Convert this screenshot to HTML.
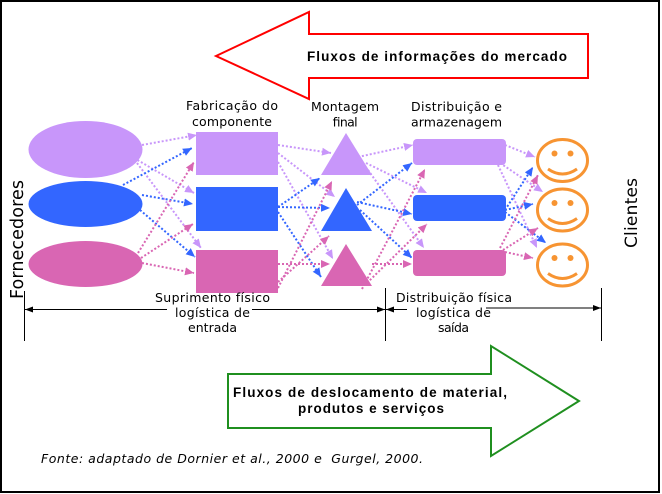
<!DOCTYPE html>
<html><head><meta charset="utf-8"><style>
html,body{margin:0;padding:0;background:#fff;}
svg{display:block;}
.d{stroke-width:2;stroke-dasharray:2 2;fill:none;}
.lv{stroke:#c896fa;}
.bl{stroke:#3366ff;}
.pk{stroke:#d966b3;}
.lbl{font-family:"DejaVu Sans","Liberation Sans",sans-serif;font-size:12.5px;fill:#000;}
</style></head><body>
<svg width="662" height="494" viewBox="0 0 662 494" xmlns="http://www.w3.org/2000/svg">
<defs>
<marker id="aL" viewBox="0 0 9 8" refX="9" refY="4" markerWidth="9" markerHeight="8" markerUnits="userSpaceOnUse" orient="auto"><path d="M0,0 L9,4 L0,8 z" fill="#c896fa"/></marker>
<marker id="aB" viewBox="0 0 9 8" refX="9" refY="4" markerWidth="9" markerHeight="8" markerUnits="userSpaceOnUse" orient="auto"><path d="M0,0 L9,4 L0,8 z" fill="#3366ff"/></marker>
<marker id="aP" viewBox="0 0 9 8" refX="9" refY="4" markerWidth="9" markerHeight="8" markerUnits="userSpaceOnUse" orient="auto"><path d="M0,0 L9,4 L0,8 z" fill="#d966b3"/></marker>
<marker id="aK" viewBox="0 0 8 6" refX="8" refY="3" markerWidth="8" markerHeight="6" markerUnits="userSpaceOnUse" orient="auto"><path d="M0,0 L8,3 L0,6 z" fill="#000"/></marker>
</defs>
<rect x="0" y="0" width="662" height="494" fill="#fff"/>
<rect x="1" y="1" width="658" height="491" fill="none" stroke="#000" stroke-width="2"/>

<!-- red arrow -->
<polygon points="216,56 309,12 309,34 588,34 588,78 309,78 309,99" fill="#fff" stroke="#ff0000" stroke-width="2"/>
<text x="307" y="61" font-family="Liberation Sans, sans-serif" font-weight="bold" font-size="13.5" textLength="260" lengthAdjust="spacing">Fluxos de informações do mercado</text>

<!-- green arrow -->
<polygon points="228,374 491,374 491,346 579,401 491,456 491,428 228,428" fill="#fff" stroke="#1f8f1f" stroke-width="2"/>
<text x="233" y="397" font-family="Liberation Sans, sans-serif" font-weight="bold" font-size="13.5" textLength="274" lengthAdjust="spacing">Fluxos de deslocamento de material,</text>
<text x="298" y="413" font-family="Liberation Sans, sans-serif" font-weight="bold" font-size="13.5" textLength="146" lengthAdjust="spacing">produtos e serviços</text>

<!-- connectors col1 -> col2 -->
<line class="d lv" x1="142" y1="145" x2="197" y2="135" marker-end="url(#aL)"/>
<line class="d lv" x1="134" y1="158" x2="194" y2="193" marker-end="url(#aL)"/>
<line class="d lv" x1="137" y1="163" x2="201" y2="248" marker-end="url(#aL)"/>
<line class="d bl" x1="123" y1="185" x2="192" y2="148" marker-end="url(#aB)"/>
<line class="d bl" x1="142" y1="195" x2="193" y2="204" marker-end="url(#aB)"/>
<line class="d bl" x1="140" y1="210" x2="195" y2="257" marker-end="url(#aB)"/>
<line class="d pk" x1="138" y1="253" x2="194" y2="162" marker-end="url(#aP)"/>
<line class="d pk" x1="141" y1="258" x2="193" y2="224" marker-end="url(#aP)"/>
<line class="d pk" x1="142" y1="263" x2="194" y2="273" marker-end="url(#aP)"/>

<!-- col2 -> col3 -->
<line class="d lv" x1="278" y1="145" x2="331" y2="153" marker-end="url(#aL)"/>
<line class="d lv" x1="278" y1="153" x2="335" y2="197" marker-end="url(#aL)"/>
<line class="d lv" x1="278" y1="162" x2="333" y2="259" marker-end="url(#aL)"/>
<line class="d bl" x1="278" y1="207" x2="320" y2="178" marker-end="url(#aB)"/>
<line class="d bl" x1="278" y1="207" x2="330" y2="208" marker-end="url(#aB)"/>
<line class="d bl" x1="278" y1="212" x2="321" y2="277" marker-end="url(#aB)"/>
<line class="d pk" x1="278" y1="288" x2="332" y2="181" marker-end="url(#aP)"/>
<line class="d pk" x1="278" y1="282" x2="329" y2="236" marker-end="url(#aP)"/>
<line class="d pk" x1="278" y1="264" x2="330" y2="264" marker-end="url(#aP)"/>

<!-- col3 -> col4 -->
<line class="d lv" x1="358" y1="157" x2="413" y2="145" marker-end="url(#aL)"/>
<line class="d lv" x1="366" y1="163" x2="427" y2="193" marker-end="url(#aL)"/>
<line class="d lv" x1="368" y1="170" x2="424" y2="248" marker-end="url(#aL)"/>
<line class="d bl" x1="357" y1="205" x2="412" y2="163" marker-end="url(#aB)"/>
<line class="d bl" x1="357" y1="202" x2="412" y2="214" marker-end="url(#aB)"/>
<line class="d bl" x1="360" y1="210" x2="412" y2="258" marker-end="url(#aB)"/>
<line class="d pk" x1="362" y1="289" x2="425" y2="169" marker-end="url(#aP)"/>
<line class="d pk" x1="367" y1="283" x2="427" y2="224" marker-end="url(#aP)"/>
<line class="d pk" x1="372" y1="264" x2="412" y2="264" marker-end="url(#aP)"/>

<!-- col4 -> col5 -->
<line class="d lv" x1="505" y1="145" x2="535" y2="157" marker-end="url(#aL)"/>
<line class="d lv" x1="500" y1="163" x2="543" y2="192" marker-end="url(#aL)"/>
<line class="d lv" x1="498" y1="165" x2="537" y2="248" marker-end="url(#aL)"/>
<line class="d bl" x1="505" y1="210" x2="533" y2="167" marker-end="url(#aB)"/>
<line class="d bl" x1="505" y1="210" x2="533" y2="204" marker-end="url(#aB)"/>
<line class="d bl" x1="505" y1="212" x2="546" y2="243" marker-end="url(#aB)"/>
<line class="d pk" x1="500" y1="248" x2="538" y2="175" marker-end="url(#aP)"/>
<line class="d pk" x1="503" y1="250" x2="538" y2="228" marker-end="url(#aP)"/>
<line class="d pk" x1="505" y1="252" x2="533" y2="258" marker-end="url(#aP)"/>

<!-- ellipses -->
<ellipse cx="85.5" cy="149.5" rx="57" ry="28.5" fill="#c896fa"/>
<ellipse cx="85.5" cy="204" rx="57" ry="23" fill="#3366ff"/>
<ellipse cx="85.5" cy="264" rx="57" ry="23" fill="#d966b3"/>

<!-- rects -->
<rect x="196" y="132" width="82" height="43" fill="#c896fa"/>
<rect x="196" y="187" width="82" height="44" fill="#3366ff"/>
<rect x="196" y="250" width="82" height="43" fill="#d966b3"/>

<!-- triangles -->
<polygon points="346,133 372,175 321,175" fill="#c896fa"/>
<polygon points="346,188 372,231 321,231" fill="#3366ff"/>
<polygon points="346,244 372,286 321,286" fill="#d966b3"/>

<!-- rounded rects -->
<rect x="413" y="139" width="93" height="26" rx="4" fill="#c896fa"/>
<rect x="413" y="195" width="93" height="26" rx="4" fill="#3366ff"/>
<rect x="413" y="250" width="93" height="26" rx="4" fill="#d966b3"/>

<!-- smileys -->
<g fill="none" stroke="#f79432" stroke-width="3">
<ellipse cx="562.5" cy="160.5" rx="25" ry="21"/>
<ellipse cx="562.5" cy="210" rx="25" ry="21"/>
<ellipse cx="562.5" cy="265" rx="25" ry="21"/>
<path d="M548,169 Q562.5,179 577,169"/>
<path d="M548,218.5 Q562.5,228.5 577,218.5"/>
<path d="M548,273.5 Q562.5,283.5 577,273.5"/>
</g>
<g fill="#f79432">
<circle cx="554.5" cy="153.5" r="3"/><circle cx="570.5" cy="153.5" r="3"/>
<circle cx="554.5" cy="203" r="3"/><circle cx="570.5" cy="203" r="3"/>
<circle cx="554.5" cy="258" r="3"/><circle cx="570.5" cy="258" r="3"/>
</g>

<!-- column labels -->
<text class="lbl" x="186" y="110" textLength="92" lengthAdjust="spacing">Fabricação do</text>
<text class="lbl" x="192" y="126" textLength="80" lengthAdjust="spacing">componente</text>
<text class="lbl" x="311" y="111" textLength="68" lengthAdjust="spacing">Montagem</text>
<text class="lbl" x="332" y="126.5" textLength="25" lengthAdjust="spacing">final</text>
<text class="lbl" x="411" y="111" textLength="91" lengthAdjust="spacing">Distribuição e</text>
<text class="lbl" x="411" y="126.5" textLength="91" lengthAdjust="spacing">armazenagem</text>

<!-- rotated labels -->
<text transform="translate(23,299) rotate(-90)" font-family="DejaVu Sans, Liberation Sans, sans-serif" font-size="17.5" textLength="119" lengthAdjust="spacing">Fornecedores</text>
<text transform="translate(637,248) rotate(-90)" font-family="DejaVu Sans, Liberation Sans, sans-serif" font-size="17" textLength="70" lengthAdjust="spacing">Clientes</text>

<!-- dimension lines -->
<g stroke="#000" stroke-width="1">
<line x1="24.5" y1="291" x2="24.5" y2="341"/>
<line x1="385.5" y1="288" x2="385.5" y2="341"/>
<line x1="601.5" y1="288" x2="601.5" y2="341"/>
<line x1="167" y1="309.5" x2="25" y2="309.5" marker-end="url(#aK)"/>
<line x1="252" y1="309.5" x2="385" y2="309.5" marker-end="url(#aK)"/>
<line x1="407" y1="309.5" x2="386" y2="309.5" marker-end="url(#aK)"/>
<line x1="486" y1="308" x2="601" y2="308" marker-end="url(#aK)"/>
</g>

<text class="lbl" x="155" y="302" textLength="115" lengthAdjust="spacing">Suprimento físico</text>
<text class="lbl" x="175" y="317" textLength="75" lengthAdjust="spacing">logística de</text>
<text class="lbl" x="188" y="332" textLength="49" lengthAdjust="spacing">entrada</text>
<text class="lbl" x="396" y="302" textLength="116" lengthAdjust="spacing">Distribuição física</text>
<text class="lbl" x="416" y="317" textLength="75" lengthAdjust="spacing">logística de</text>
<text class="lbl" x="438" y="332" textLength="31" lengthAdjust="spacing">saída</text>

<!-- footnote -->
<text x="41" y="463" font-family="DejaVu Sans, Liberation Sans, sans-serif" font-style="italic" font-size="12.5" textLength="382" lengthAdjust="spacing">Fonte: adaptado de Dornier et al., 2000 e&#160; Gurgel, 2000.</text>
</svg>
</body></html>
